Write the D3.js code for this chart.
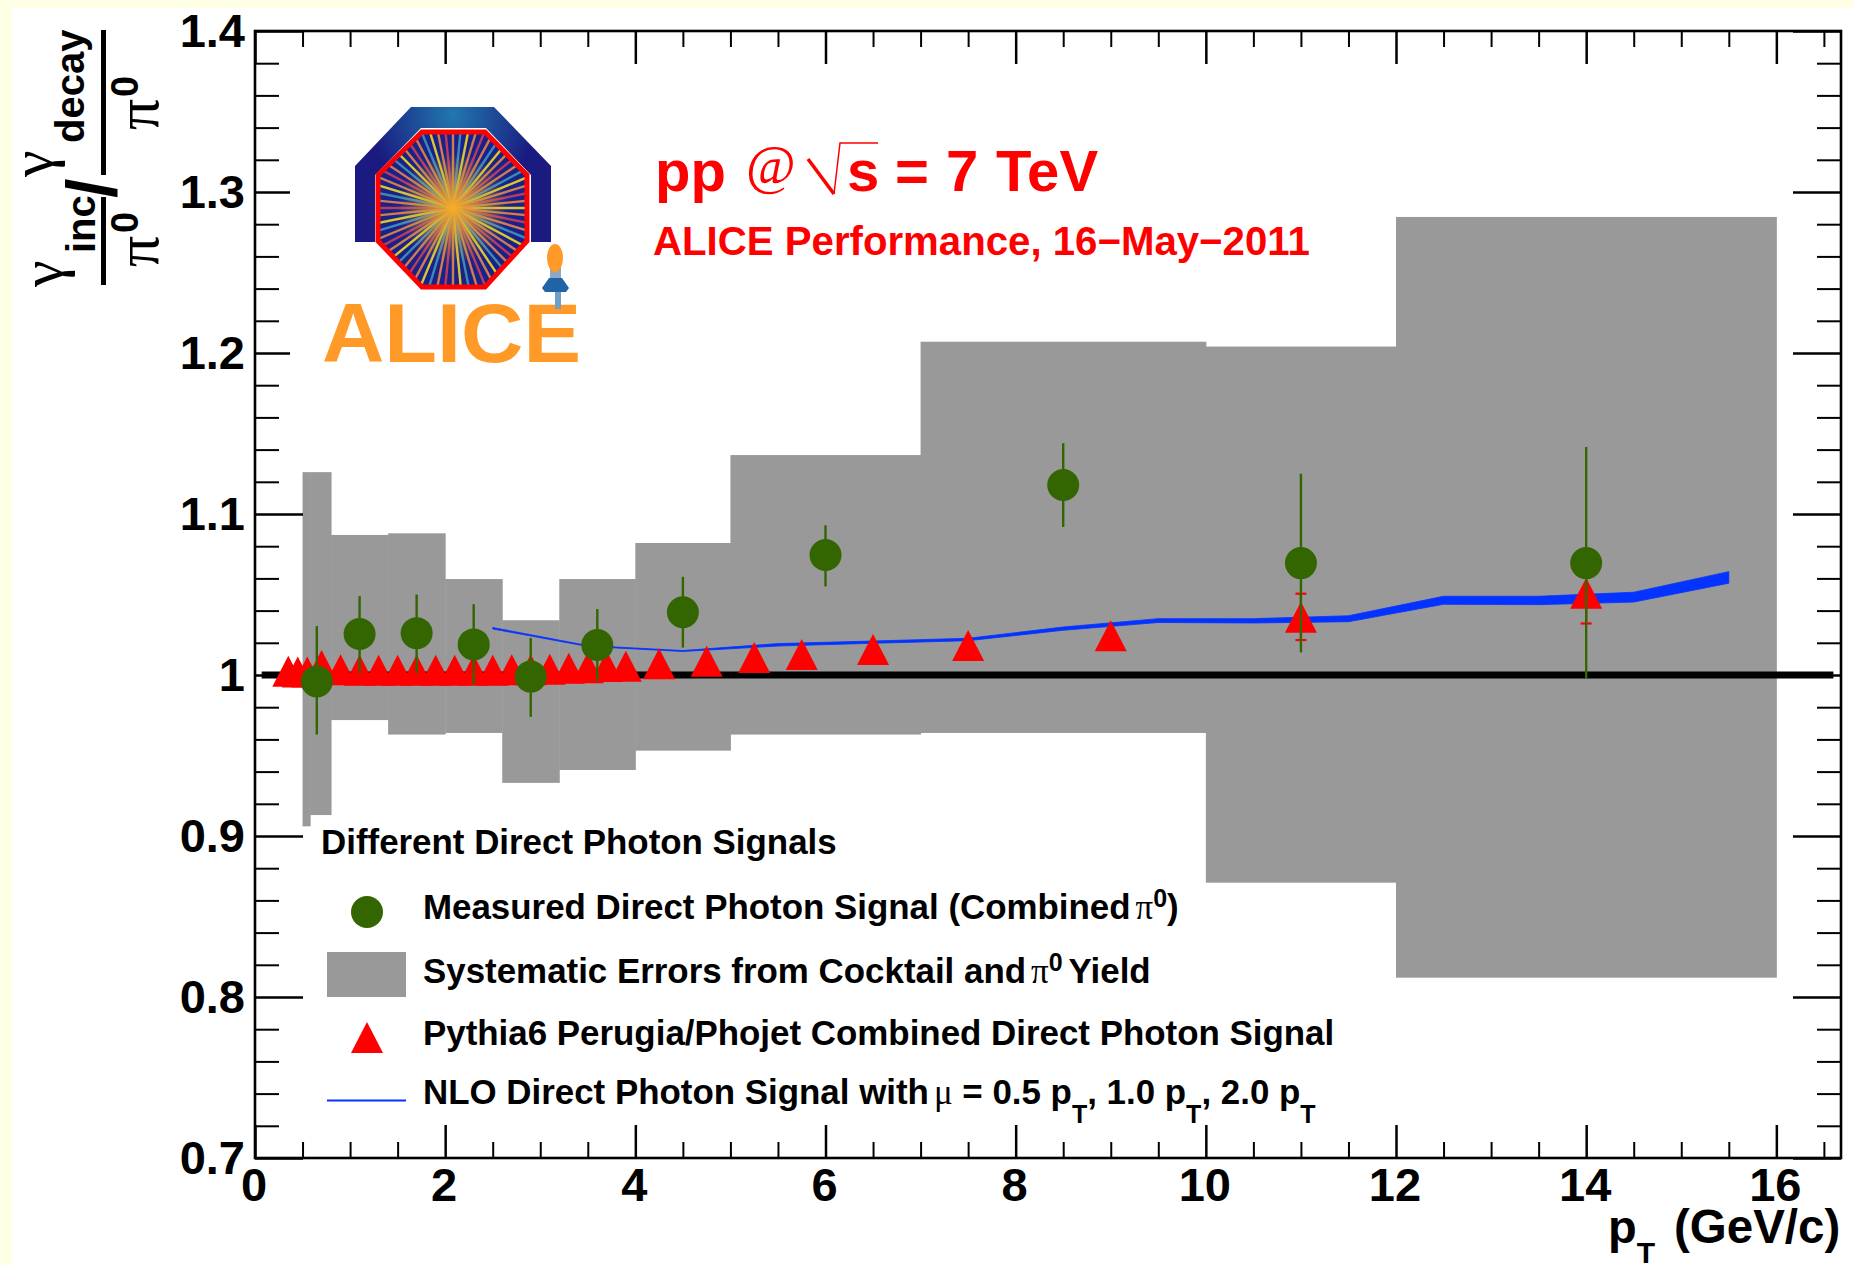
<!DOCTYPE html>
<html>
<head>
<meta charset="utf-8">
<script src="https://cdn.jsdelivr.net/npm/d3@7"></script>
<style>
  html, body { margin: 0; padding: 0; background: #fff; }
  svg { display: block; }
  text { font-family: "Liberation Sans", sans-serif; font-weight: bold; fill: #000; }
  .sym { font-family: "Liberation Serif", serif; font-weight: normal; }
  .tick text { font-size: 47px; font-family: "Liberation Sans", sans-serif; font-weight: bold; fill: #000; }
  .tick line { stroke: #000; }
</style>
</head>
<body>
<div id="chart"></div>
<script>
var width = 1853;
var height = 1265;

// systematic error band, one entry per bin
var sysEdges = [0.5, 0.58, 0.8, 1.4, 2.0, 2.6, 3.2, 4.0, 5.0, 7.0, 10.0, 12.0, 16.0];
var sysHigh = [1.126, 1.126, 1.087, 1.088, 1.0596, 1.034, 1.0596, 1.082, 1.1366, 1.207, 1.204, 1.2845];
var sysLow = [0.906, 0.913, 0.972, 0.963, 0.964, 0.933, 0.941, 0.953, 0.963, 0.964, 0.871, 0.812];

// measured signal
var measX = [0.65, 1.1, 1.7, 2.3, 2.9, 3.6, 4.5, 6, 8.5, 11, 14];
var measY = [0.996, 1.0255, 1.026, 1.019, 0.999, 1.0186, 1.039, 1.0745, 1.118, 1.0695, 1.0695];
var measHigh = [1.0304, 1.049, 1.05, 1.044, 1.023, 1.041, 1.061, 1.093, 1.144, 1.125, 1.1416];
var measLow = [0.963, 1.001, 1.001, 0.994, 0.974, 0.996, 1.017, 1.055, 1.092, 1.014, 0.998];

// pythia
var pythiaX = [0.35, 0.45, 0.55, 0.7, 0.9, 1.1, 1.3, 1.5, 1.7, 1.9, 2.1, 2.3, 2.5, 2.7, 2.9, 3.1, 3.3, 3.5, 3.7, 3.9, 4.25, 4.75, 5.25, 5.75, 6.5, 7.5, 9, 11, 14];
var pythiaY = [1.002, 1.0015, 1.0015, 1.0056, 1.003, 1.0027, 1.0027, 1.0027, 1.0027, 1.0027, 1.0027, 1.0027, 1.0027, 1.003, 1.003, 1.0033, 1.0039, 1.0042, 1.005, 1.0051, 1.0066, 1.0083, 1.0105, 1.0125, 1.0155, 1.018, 1.024, 1.0356, 1.0505];
var pythiaErrX = [11, 14];
var pythiaErrHigh = [1.0505, 1.069];
var pythiaErrLow = [1.0217, 1.032];

// NLO band
var nloX = [2.5, 3.5, 4.5, 5.5, 6.5, 7.5, 8.5, 9.5, 10.5, 11.5, 12.5, 13.5, 14.5, 15.5];
var nloHigh = [1.0295, 1.0183, 1.0152, 1.0195, 1.0211, 1.0228, 1.0298, 1.035, 1.035, 1.0368, 1.0489, 1.0489, 1.0514, 1.0642];
var nloLow = [1.0286, 1.0177, 1.0146, 1.018, 1.0197, 1.0213, 1.0278, 1.0326, 1.0323, 1.0331, 1.0439, 1.0437, 1.0453, 1.057];

var xMajor = [0, 2, 4, 6, 8, 10, 12, 14, 16];
var xMinor = [0.5, 1, 1.5, 2.5, 3, 3.5, 4.5, 5, 5.5, 6.5, 7, 7.5, 8.5, 9, 9.5, 10.5, 11, 11.5, 12.5, 13, 13.5, 14.5, 15, 15.5, 16.5];
var yMajor = [0.7, 0.8, 0.9, 1, 1.1, 1.2, 1.3, 1.4];
var yMinor = d3.range(0, 36).map(d => 0.7 + d * 0.02).filter(d => Math.round(d * 100) % 10 != 0);

var grey = "#999999";
var green = "#336600";
var red = "#ff0000";
var blue = "#0433ff";

var x = d3.scaleLinear().domain([0, 16.68]).range([255, 1841]);
var y = d3.scaleLinear().domain([0.7, 1.4]).range([1158, 31]);

var svg = d3.select("#chart").append("svg")
  .attr("width", width)
  .attr("height", height);

// pale page edge
svg.append("rect").attr("width", width).attr("height", 8).attr("fill", "#ffffe6");
svg.append("rect").attr("width", 12).attr("height", height).attr("fill", "#ffffe6");

// systematic errors
svg.append("g").selectAll("rect")
  .data(sysHigh)
  .enter()
  .append("rect")
  .attr("x", (d, i) => x(sysEdges[i]))
  .attr("width", (d, i) => x(sysEdges[i + 1]) - x(sysEdges[i]) + 0.5)
  .attr("y", d => y(d))
  .attr("height", (d, i) => y(sysLow[i]) - y(d))
  .attr("fill", grey);

// axes, major and minor
function drawAxes() {
  var g = svg.append("g");
  function add(axis, tx, ty, w) {
    var a = g.append("g").attr("transform", "translate(" + tx + "," + ty + ")").call(axis);
    a.select(".domain").remove();
    a.selectAll("line").attr("stroke-width", w);
    return a;
  }
  add(d3.axisBottom(x).tickValues(xMajor).tickSize(-33).tickPadding(10).tickFormat(d3.format("d")), 0, y(0.7), 2.5)
    .selectAll("text").attr("dx", -1.5);
  add(d3.axisBottom(x).tickValues(xMinor).tickSize(-16).tickFormat(""), 0, y(0.7), 2);
  add(d3.axisTop(x).tickValues(xMajor).tickSize(-33).tickFormat(""), 0, y(1.4), 2.5);
  add(d3.axisTop(x).tickValues(xMinor).tickSize(-16).tickFormat(""), 0, y(1.4), 2);
  add(d3.axisLeft(y).tickValues(yMajor).tickSize(-48).tickPadding(10).tickFormat(d3.format("~g")), x(0), 0, 2.5)
    .selectAll("text").attr("dy", "0.34em");
  add(d3.axisLeft(y).tickValues(yMinor).tickSize(-24).tickFormat(""), x(0), 0, 2);
  add(d3.axisRight(y).tickValues(yMajor).tickSize(-48).tickFormat(""), x(16.68), 0, 2.5);
  add(d3.axisRight(y).tickValues(yMinor).tickSize(-24).tickFormat(""), x(16.68), 0, 2);
  g.append("rect")
    .attr("x", x(0))
    .attr("y", y(1.4))
    .attr("width", x(16.68) - x(0))
    .attr("height", y(0.7) - y(1.4))
    .attr("fill", "none")
    .attr("stroke", "#000")
    .attr("stroke-width", 2.6);
}
drawAxes();

// unity line
svg.append("line")
  .attr("x1", x(0.07)).attr("x2", x(16.6))
  .attr("y1", y(1)).attr("y2", y(1))
  .attr("stroke", "#000")
  .attr("stroke-width", 7);

// NLO band
var nloArea = d3.area()
  .x((d, i) => x(d))
  .y0((d, i) => y(nloLow[i]))
  .y1((d, i) => y(nloHigh[i]));
svg.append("path")
  .attr("d", nloArea(nloX))
  .attr("fill", blue)
  .attr("stroke", blue)
  .attr("stroke-width", 0.8);

var triangle = "M0,-16L16,15L-16,15Z";

// pythia error bars then triangles
var perr = svg.append("g").attr("stroke", red).attr("stroke-width", 2.2);
pythiaErrX.forEach((d, i) => {
  perr.append("line").attr("x1", x(d)).attr("x2", x(d)).attr("y1", y(pythiaErrLow[i])).attr("y2", y(pythiaErrHigh[i]));
  perr.append("line").attr("x1", x(d) - 5.5).attr("x2", x(d) + 5.5).attr("y1", y(pythiaErrLow[i])).attr("y2", y(pythiaErrLow[i]));
  perr.append("line").attr("x1", x(d) - 5.5).attr("x2", x(d) + 5.5).attr("y1", y(pythiaErrHigh[i])).attr("y2", y(pythiaErrHigh[i]));
});
svg.append("g").selectAll("path")
  .data(pythiaX)
  .enter()
  .append("path")
  .attr("d", triangle)
  .attr("transform", (d, i) => "translate(" + x(d) + "," + y(pythiaY[i]) + ")")
  .attr("fill", red);

// measured points
svg.append("g").selectAll("line")
  .data(measX)
  .enter()
  .append("line")
  .attr("x1", d => x(d)).attr("x2", d => x(d))
  .attr("y1", (d, i) => y(measLow[i]))
  .attr("y2", (d, i) => y(measHigh[i]))
  .attr("stroke", green)
  .attr("stroke-width", 2.4);
svg.append("g").selectAll("circle")
  .data(measX)
  .enter()
  .append("circle")
  .attr("cx", d => x(d))
  .attr("cy", (d, i) => y(measY[i]))
  .attr("r", 16)
  .attr("fill", green);

// logo, it sits on a white box that cuts the long ticks
function drawLogo() {
  var g = svg.append("g");
  g.append("rect").attr("x", 290).attr("y", 90).attr("width", 300).attr("height", 280).attr("fill", "#fff");

  var defs = svg.append("defs");
  var arch = defs.append("radialGradient").attr("id", "arch").attr("gradientUnits", "userSpaceOnUse")
    .attr("cx", 453).attr("cy", 115).attr("r", 85);
  arch.append("stop").attr("offset", 0).attr("stop-color", "#2178ad");
  arch.append("stop").attr("offset", 1).attr("stop-color", "#1a1a80");
  var glow = defs.append("radialGradient").attr("id", "glow").attr("gradientUnits", "userSpaceOnUse")
    .attr("cx", 453).attr("cy", 208).attr("r", 55);
  glow.append("stop").attr("offset", 0).attr("stop-color", "#ffb020").attr("stop-opacity", 0.95);
  glow.append("stop").attr("offset", 0.5).attr("stop-color", "#c8a040").attr("stop-opacity", 0.5);
  glow.append("stop").attr("offset", 1).attr("stop-color", "#c8a040").attr("stop-opacity", 0);
  var octagon = "422,132 485,132 527,175 527,241 485,287 422,287 378,241 378,175";
  defs.append("clipPath").attr("id", "oct").append("polygon").attr("points", octagon);

  g.append("polygon")
    .attr("points", "355,242 355,166 411,107 494,107 551,166 551,242 531,242 531,175 486,128 421,128 375,175 375,242")
    .attr("fill", "url(#arch)");
  g.append("polygon").attr("points", octagon).attr("fill", "#1a2288");

  var rays = g.append("g").attr("clip-path", "url(#oct)");
  var rayColours = ["#d8c830", "#d07c50", "#b83c60", "#d07c50", "#3a8ab8"];
  d3.range(0, 64).forEach(i => {
    var a = i * Math.PI * 2 / 64;
    rays.append("line")
      .attr("x1", 453).attr("y1", 208)
      .attr("x2", 453 + 100 * Math.cos(a)).attr("y2", 208 + 100 * Math.sin(a))
      .attr("stroke", rayColours[i % 5])
      .attr("stroke-width", 2.4);
  });
  rays.append("circle").attr("cx", 453).attr("cy", 208).attr("r", 55).attr("fill", "url(#glow)");
  g.append("polygon").attr("points", octagon).attr("fill", "none").attr("stroke", red).attr("stroke-width", 5);

  // the ALICE letters
  g.append("text")
    .attr("x", 322).attr("y", 362)
    .attr("textLength", 259)
    .attr("lengthAdjust", "spacingAndGlyphs")
    .style("font-size", "84px")
    .style("fill", "#ff9a28")
    .text("ALICE");

  // little figure
  g.append("rect").attr("x", 550).attr("y", 262).attr("width", 11).attr("height", 16).attr("fill", "#8fa9c4");
  g.append("rect").attr("x", 555).attr("y", 290).attr("width", 6).attr("height", 19).attr("fill", "#6f9fc4");
  g.append("ellipse").attr("cx", 555).attr("cy", 258).attr("rx", 8).attr("ry", 14).attr("fill", "#ff9a28");
  g.append("polygon").attr("points", "549,278 562,278 569,288 566,292 545,292 542,288").attr("fill", "#2263a8");
}
drawLogo();

// red header
var head = svg.append("g").style("fill", red);
function redText(str, px, py, size, cls) {
  return head.append("text").attr("x", px).attr("y", py).attr("class", cls || null)
    .style("font-size", size + "px").style("fill", red).text(str);
}
redText("pp", 655, 191, 58);
redText("@", 746, 183, 54, "sym");
redText("s", 847, 191, 58);
redText("=", 895, 191, 58);
redText("7", 946, 191, 58);
redText("TeV", 996, 191, 58);
svg.append("path").attr("d", "M808,159L834,194").attr("stroke", red).attr("stroke-width", 3.5).attr("fill", "none");
svg.append("path").attr("d", "M834,194L840,143L878,143").attr("stroke", red).attr("stroke-width", 1.5).attr("fill", "none");
redText("ALICE Performance, 16\u2212May\u22122011", 653, 255, 40.2);

// x title
var xt = svg.append("text").attr("x", 1608).attr("y", 1243).style("font-size", "47px");
xt.append("tspan").text("p");
xt.append("tspan").attr("dy", 20).style("font-size", "30px").text("T");
svg.append("text").attr("x", 1674).attr("y", 1243).style("font-size", "47.5px").text("(GeV/c)");

// y title, all rotated pieces
function vText(str, bx, by, size, cls) {
  return svg.append("text")
    .attr("class", cls || null)
    .attr("transform", "translate(" + bx + "," + by + ") rotate(-90)")
    .style("font-size", size + "px")
    .text(str);
}
vText("\u03b3", 62, 287, 60, "sym");
vText("inc", 95, 253, 40);
vText("\u03c0", 158, 267, 62, "sym");
vText("0", 138, 233, 38);
vText("/", 116, 198, 70);
vText("\u03b3", 52, 177, 60, "sym");
vText("decay", 84, 143, 40);
vText("\u03c0", 158, 130, 62, "sym");
vText("0", 138, 97, 38);
svg.append("rect").attr("x", 101).attr("y", 197).attr("width", 5).attr("height", 88);
svg.append("rect").attr("x", 101).attr("y", 30).attr("width", 5).attr("height", 145);

// legend
var legendSize = 34.9;
function legendText(px, py) {
  return svg.append("text").attr("x", px).attr("y", py).style("font-size", legendSize + "px");
}
function piZero(t) {
  t.append("tspan").attr("class", "sym").attr("dx", 5).text("\u03c0");
  t.append("tspan").attr("dy", -12).style("font-size", "25px").text("0");
}
legendText(321, 854).text("Different Direct Photon Signals");

var t1 = legendText(423, 919);
t1.append("tspan").text("Measured Direct Photon Signal (Combined");
piZero(t1);
t1.append("tspan").attr("dy", 12).text(")");

var t2 = legendText(423, 983);
t2.append("tspan").text("Systematic Errors from Cocktail and");
piZero(t2);
t2.append("tspan").attr("dy", 12).attr("dx", 6).text("Yield");

legendText(423, 1045).text("Pythia6 Perugia/Phojet Combined Direct Photon Signal");

var t4 = legendText(423, 1104);
t4.append("tspan").text("NLO Direct Photon Signal with");
t4.append("tspan").attr("class", "sym").attr("dx", 5).text("\u03bc");
t4.append("tspan").text(" = 0.5 p");
t4.append("tspan").attr("dy", 19).style("font-size", "25px").text("T");
t4.append("tspan").attr("dy", -19).text(", 1.0 p");
t4.append("tspan").attr("dy", 19).style("font-size", "25px").text("T");
t4.append("tspan").attr("dy", -19).text(", 2.0 p");
t4.append("tspan").attr("dy", 19).style("font-size", "25px").text("T");

svg.append("circle").attr("cx", 367).attr("cy", 912).attr("r", 16).attr("fill", green);
svg.append("rect").attr("x", 327).attr("y", 952).attr("width", 79).attr("height", 45).attr("fill", grey);
svg.append("path").attr("d", triangle).attr("transform", "translate(367,1038)").attr("fill", red);
svg.append("line").attr("x1", 327).attr("x2", 406).attr("y1", 1100.5).attr("y2", 1100.5).attr("stroke", blue).attr("stroke-width", 2);
</script>
</body>
</html>
